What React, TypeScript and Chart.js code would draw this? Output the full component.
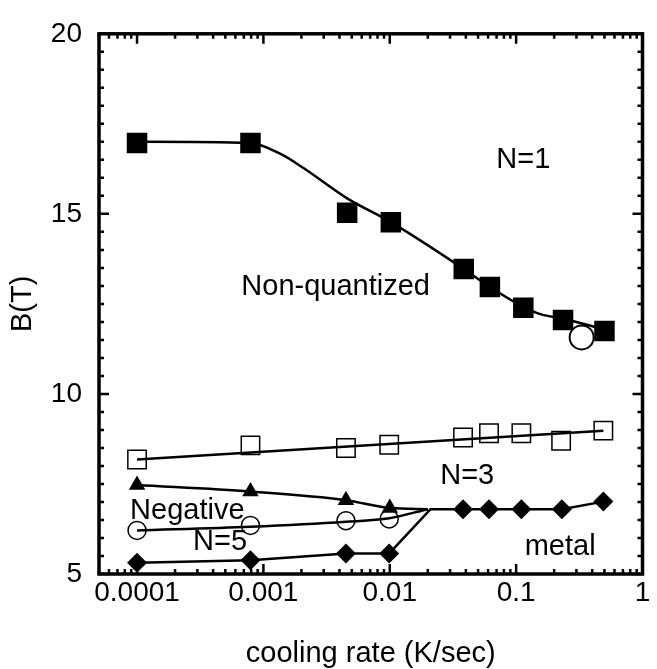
import React, { useEffect, useRef } from "react";
import { Chart, registerables } from "chart.js";

Chart.register(...registerables);

// ---- axis ticks ----
const xTickValues = [1e-4, 1e-3, 1e-2, 1e-1, 1];
const xTickLabels = ["0.0001", "0.001", "0.01", "0.1", "1"];
const yTickValues = [5, 10, 15, 20];
const yTickLabels = ["5", "10", "15", "20"];

// ---- N=1 (filled squares) ----
const n1Rate = [1e-4, 7.9e-4, 4.6e-3, 0.0102, 0.0385, 0.062, 0.114, 0.235, 0.5];
const n1Field = [16.97, 16.97, 15.03, 14.77, 13.47, 12.97, 12.39, 12.05, 11.75];
// guide curve through the N=1 points
const n1CurveRate = [1e-4, 7.9e-4, 1.39e-3, 2.06e-3, 4.6e-3, 0.0102, 0.0385, 0.062, 0.114, 0.158, 0.235, 0.5];
const n1CurveField = [17.0, 16.97, 16.65, 16.28, 15.43, 14.77, 13.47, 12.97, 12.42, 12.21, 12.09, 11.79];

// ---- single open circle near N=1 ----
const n1OpenRate = [0.33];
const n1OpenField = [11.57];

// ---- N=3 (open squares) ----
const n3Rate = [1e-4, 7.9e-4, 4.5e-3, 0.0099, 0.038, 0.061, 0.11, 0.227, 0.49];
const n3Field = [8.18, 8.57, 8.5, 8.59, 8.79, 8.91, 8.91, 8.7, 8.98];
// fitted straight line
const n3FitRate = [1e-4, 0.49];
const n3FitField = [8.18, 8.98];

// ---- Negative (filled triangles) ----
const negRate = [1e-4, 7.9e-4, 4.5e-3, 0.01];
const negField = [7.47, 7.29, 7.05, 6.83];
const negCurveRate = [1e-4, 7.9e-4, 4.5e-3, 0.01, 0.02];
const negCurveField = [7.47, 7.29, 7.05, 6.83, 6.8];

// ---- N=5 (open circles) ----
const n5Rate = [1e-4, 7.9e-4, 4.5e-3, 0.0099];
const n5Field = [6.21, 6.35, 6.48, 6.53];
const n5CurveRate = [1e-4, 7.9e-4, 4.5e-3, 0.0099, 0.02];
const n5CurveField = [6.21, 6.31, 6.45, 6.55, 6.8];

// ---- metal (filled diamonds) ----
const metalRate = [1e-4, 7.9e-4, 4.5e-3, 0.0099, 0.038, 0.061, 0.11, 0.23, 0.49];
const metalField = [5.31, 5.38, 5.57, 5.57, 6.8, 6.8, 6.8, 6.8, 7.01];
const metalCurveRate = [1e-4, 7.9e-4, 4.5e-3, 0.0099, 0.021, 0.038, 0.061, 0.11, 0.23, 0.49];
const metalCurveField = [5.31, 5.38, 5.57, 5.57, 6.8, 6.8, 6.8, 6.8, 6.8, 7.01];

// ---- annotations ----
const noteTexts = ["N=1", "Non-quantized", "N=3", "Negative", "N=5", "metal"];
const noteRate = [0.114, 3.73e-3, 0.041, 2.5e-4, 4.54e-4, 0.223];
const noteField = [16.49, 12.97, 7.72, 6.76, 5.89, 5.75];

const FONT = "'Liberation Sans', Arial, Helvetica, sans-serif";

const pts = (xs: number[], ys: number[]) => xs.map((x, i) => ({ x, y: ys[i] }));

const framePlugin = {
  id: "frameTicks",
  afterDatasetsDraw(chart: any) {
    const { ctx, chartArea } = chart;
    const xs = chart.scales.x;
    const ys = chart.scales.y;
    const { left, right, top, bottom } = chartArea;
    ctx.save();
    ctx.strokeStyle = "#000";
    ctx.lineCap = "butt";
    ctx.lineWidth = 2.5;
    for (let e = -5; e <= 0; e++) {
      for (let m = 1; m <= 9; m++) {
        const v = m * Math.pow(10, e);
        if (v < xs.min * 0.999 || v > xs.max * 1.001) continue;
        const px = xs.getPixelForValue(v);
        const len = m === 1 ? 10 : 5;
        ctx.beginPath();
        ctx.moveTo(px, bottom);
        ctx.lineTo(px, bottom - len);
        ctx.moveTo(px, top);
        ctx.lineTo(px, top + len);
        ctx.stroke();
      }
    }
    for (let v = 5; v <= 20.001; v += 0.5) {
      const py = ys.getPixelForValue(v);
      const major = Math.abs(v % 5) < 1e-6;
      const len = major ? 10 : 5;
      ctx.beginPath();
      ctx.moveTo(left, py);
      ctx.lineTo(left + len, py);
      ctx.moveTo(right, py);
      ctx.lineTo(right - len, py);
      ctx.stroke();
    }
    ctx.lineWidth = 3.5;
    ctx.strokeRect(left, top, right - left, bottom - top);

    ctx.fillStyle = "#000";
    ctx.font = `29px ${FONT}`;
    ctx.textAlign = "center";
    ctx.textBaseline = "middle";
    noteTexts.forEach((t, i) => {
      ctx.fillText(t, xs.getPixelForValue(noteRate[i]), ys.getPixelForValue(noteField[i]));
    });
    ctx.restore();
  },
};

export default function App() {
  const canvasRef = useRef<HTMLCanvasElement | null>(null);

  useEffect(() => {
    const canvas = canvasRef.current;
    if (!canvas) return;
    const lineBase = {
      type: "line" as const,
      borderColor: "#000",
      borderWidth: 2.5,
      pointRadius: 0,
      fill: false,
      order: 2,
    };
    const markerBase = {
      type: "line" as const,
      showLine: false,
      borderColor: "#000",
      order: 1,
    };
    const chart = new Chart(canvas, {
      type: "line",
      data: {
        datasets: [
          { ...lineBase, label: "N=1 curve", data: pts(n1CurveRate, n1CurveField), cubicInterpolationMode: "monotone" },
          { ...lineBase, label: "N=3 fit", data: pts(n3FitRate, n3FitField), tension: 0 },
          { ...lineBase, label: "Negative curve", data: pts(negCurveRate, negCurveField), cubicInterpolationMode: "monotone" },
          { ...lineBase, label: "N=5 curve", data: pts(n5CurveRate, n5CurveField), cubicInterpolationMode: "monotone" },
          { ...lineBase, label: "metal curve", data: pts(metalCurveRate, metalCurveField), tension: 0 },
          {
            ...markerBase,
            label: "N=1",
            data: pts(n1Rate, n1Field),
            pointStyle: "rect",
            pointRadius: 14.5,
            pointBackgroundColor: "#000",
            pointBorderColor: "#000",
            pointBorderWidth: 0,
          },
          {
            ...markerBase,
            label: "N=1 open",
            data: pts(n1OpenRate, n1OpenField),
            pointStyle: "circle",
            pointRadius: 12,
            pointBackgroundColor: "#fff",
            pointBorderColor: "#000",
            pointBorderWidth: 2,
          },
          {
            ...markerBase,
            label: "N=3",
            data: pts(n3Rate, n3Field),
            pointStyle: "rect",
            pointRadius: 13,
            pointBackgroundColor: "rgba(0,0,0,0)",
            pointBorderColor: "#000",
            pointBorderWidth: 1.5,
          },
          {
            ...markerBase,
            label: "Negative",
            data: pts(negRate, negField),
            pointStyle: "triangle",
            pointRadius: 9.5,
            pointBackgroundColor: "#000",
            pointBorderColor: "#000",
            pointBorderWidth: 0,
          },
          {
            ...markerBase,
            label: "N=5",
            data: pts(n5Rate, n5Field),
            pointStyle: "circle",
            pointRadius: 9,
            pointBackgroundColor: "rgba(0,0,0,0)",
            pointBorderColor: "#000",
            pointBorderWidth: 1.5,
          },
          {
            ...markerBase,
            label: "metal",
            data: pts(metalRate, metalField),
            pointStyle: "rectRot",
            pointRadius: 10,
            pointBackgroundColor: "#000",
            pointBorderColor: "#000",
            pointBorderWidth: 0,
          },
        ],
      },
      options: {
        responsive: false,
        animation: false,
        devicePixelRatio: 1,
        layout: { padding: { left: 0, top: 28, right: 12, bottom: 0 } },
        plugins: {
          legend: { display: false },
          tooltip: { enabled: false },
          title: { display: false },
        },
        scales: {
          x: {
            type: "logarithmic",
            min: 5e-5,
            max: 1,
            grid: { display: false, drawTicks: false },
            border: { display: false },
            afterBuildTicks: (scale: any) => {
              scale.ticks = xTickValues.map((value) => ({ value }));
            },
            afterFit: (scale: any) => {
              scale.height = 95;
            },
            ticks: {
              autoSkip: false,
              maxRotation: 0,
              minRotation: 0,
              padding: 2,
              color: "#000",
              font: { family: FONT, size: 28 },
              callback: (value: any) => {
                const i = xTickValues.findIndex((v) => Math.abs(v - Number(value)) / v < 1e-6);
                return i >= 0 ? xTickLabels[i] : "";
              },
            },
            title: {
              display: true,
              text: "cooling rate (K/sec)",
              color: "#000",
              font: { family: FONT, size: 29 },
              padding: { top: 0, bottom: -2 },
            },
          },
          y: {
            type: "linear",
            min: 5,
            max: 20,
            grid: { display: false, drawTicks: false },
            border: { display: false },
            afterBuildTicks: (scale: any) => {
              scale.ticks = yTickValues.map((value) => ({ value }));
            },
            afterFit: (scale: any) => {
              scale.width = 99;
            },
            ticks: {
              padding: 17,
              color: "#000",
              font: { family: FONT, size: 28 },
              callback: (value: any) => {
                const i = yTickValues.indexOf(Number(value));
                return i >= 0 ? yTickLabels[i] : "";
              },
            },
            title: {
              display: true,
              text: "B(T)",
              color: "#000",
              font: { family: FONT, size: 29 },
              padding: { top: 6, bottom: 0 },
            },
          },
        },
      },
      plugins: [framePlugin],
    });
    return () => chart.destroy();
  }, []);

  return (
    <div style={{ position: "absolute", left: 0, top: 0, width: 657, height: 669, background: "#fff" }}>
      <canvas ref={canvasRef} width={657} height={669} style={{ display: "block" }} />
    </div>
  );
}
